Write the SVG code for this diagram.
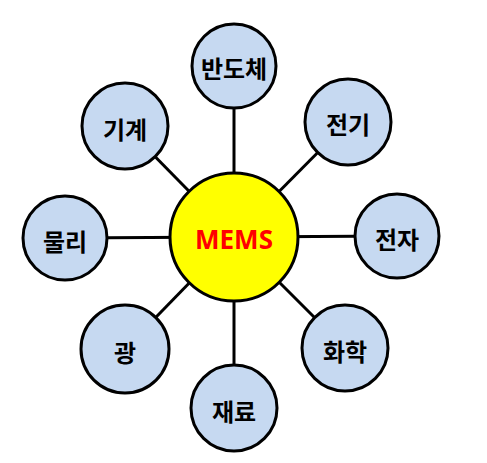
<svg xmlns="http://www.w3.org/2000/svg" width="487" height="463" viewBox="0 0 487 463">
<style>
.edge{stroke:#000;stroke-width:3;}
.node circle{fill:#c6d9f1;stroke:#000;stroke-width:3;}
.node text{font-family:"Noto Sans CJK KR","Noto Sans",sans-serif;font-weight:bold;font-size:24px;fill:#000;text-anchor:middle;dominant-baseline:central;}
#center circle{fill:#ffff00;stroke:#000;stroke-width:3;}
#center text{font-family:"Noto Sans","Liberation Sans",sans-serif;font-weight:bold;font-size:26px;fill:#ff0000;text-anchor:middle;dominant-baseline:central;}
</style>
<rect width="487" height="463" fill="#fff"/>
<g id="connectors">
<line class="edge" x1="234" y1="237" x2="234" y2="66"/>
<line class="edge" x1="234" y1="237" x2="348" y2="122"/>
<line class="edge" x1="234" y1="237" x2="397" y2="236"/>
<line class="edge" x1="234" y1="237" x2="345" y2="348"/>
<line class="edge" x1="234" y1="237" x2="234" y2="408"/>
<line class="edge" x1="234" y1="237" x2="125" y2="349"/>
<line class="edge" x1="234" y1="237" x2="65" y2="238"/>
<line class="edge" x1="234" y1="237" x2="125" y2="126"/>
</g>
<g id="center"><circle cx="234" cy="237" r="64"/><text x="234" y="239">MEMS</text></g>
<g id="n-bandoche" class="node"><circle cx="234" cy="66" r="42"/><text x="234" y="67">반도체</text></g>
<g id="n-jeongi" class="node"><circle cx="348" cy="122" r="43"/><text x="348" y="123">전기</text></g>
<g id="n-jeonja" class="node"><circle cx="397" cy="236" r="42"/><text x="397" y="238">전자</text></g>
<g id="n-hwahak" class="node"><circle cx="345" cy="348" r="43"/><text x="345" y="350">화학</text></g>
<g id="n-jaeryo" class="node"><circle cx="234" cy="408" r="43"/><text x="234" y="410">재료</text></g>
<g id="n-gwang" class="node"><circle cx="125" cy="349" r="44"/><text x="125" y="351">광</text></g>
<g id="n-mulli" class="node"><circle cx="65" cy="238" r="42"/><text x="65" y="240">물리</text></g>
<g id="n-gigye" class="node"><circle cx="125" cy="126" r="43"/><text x="125" y="128">기계</text></g>
</svg>
